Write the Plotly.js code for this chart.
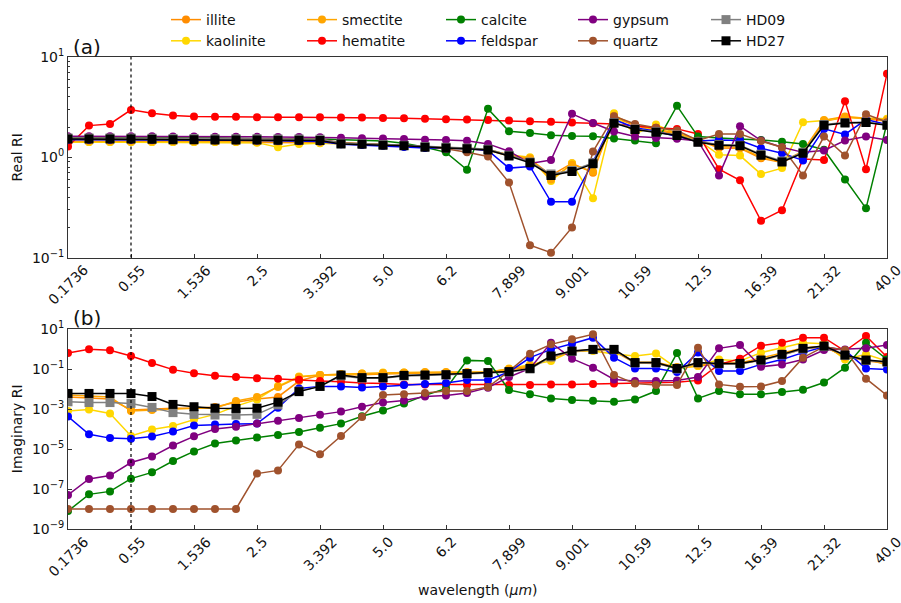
<!DOCTYPE html>
<html>
<head>
<meta charset="utf-8">
<script src="https://cdn.plot.ly/plotly-3.0.1.min.js"></script>
<style>html,body{margin:0;padding:0;background:#fff;}#chart{width:901px;height:603px;}</style>
</head>
<body>
<div id="chart"></div>
<script>
// ---- data ----
const tickLabels = ['0.1736','0.55','1.536','2.5','3.392','5.0','6.2','7.899','9.001','10.59','12.5','16.39','21.32','40.0'];
const minerals = ['illite','kaolinite','smectite','hematite','calcite','feldspar','gypsum','quartz','HD09','HD27'];

// Real refractive index
const illite_re = [1.42,1.42,1.42,1.42,1.42,1.42,1.42,1.42,1.42,1.41,1.40,1.40,1.40,1.38,1.36,1.33,1.30,1.27,1.24,1.21,1.18,1.03,0.96,0.66,0.87,0.70,2.51,2.07,1.85,1.71,1.49,1.24,1.23,0.98,0.89,1.12,2.29,2.51,2.42,2.29];
const kaolinite_re = [1.42,1.42,1.42,1.42,1.42,1.42,1.42,1.42,1.42,1.40,1.26,1.36,1.38,1.36,1.34,1.32,1.30,1.27,1.24,1.21,1.18,1.06,1.00,0.58,0.87,0.39,2.75,1.71,2.12,1.71,1.49,1.06,1.04,0.68,0.78,2.24,2.33,2.51,2.47,2.42];
const smectite_re = [1.45,1.45,1.45,1.45,1.45,1.45,1.45,1.45,1.45,1.44,1.43,1.43,1.42,1.40,1.38,1.35,1.32,1.28,1.25,1.22,1.20,1.05,0.98,0.60,0.85,0.72,2.60,2.10,1.90,1.75,1.50,1.28,1.25,1.00,0.90,1.15,2.35,2.55,2.45,2.35];
const hematite_re = [1.28,2.07,2.15,2.97,2.75,2.61,2.55,2.53,2.53,2.51,2.51,2.51,2.51,2.50,2.49,2.47,2.45,2.42,2.40,2.38,2.36,2.33,2.29,2.26,2.22,2.19,2.15,2.05,1.97,1.92,1.71,0.76,0.59,0.233,0.297,0.96,0.94,3.63,0.76,6.8];
const calcite_re = [1.58,1.58,1.58,1.58,1.57,1.57,1.56,1.56,1.55,1.55,1.54,1.53,1.52,1.50,1.48,1.45,1.38,1.26,1.12,0.75,3.04,1.82,1.75,1.66,1.63,1.62,1.54,1.47,1.38,3.26,1.61,1.56,1.53,1.49,1.43,1.36,1.19,0.60,0.31,2.2];
const feldspar_re = [1.50,1.50,1.50,1.50,1.50,1.49,1.49,1.48,1.48,1.47,1.46,1.45,1.44,1.35,1.33,1.30,1.27,1.24,1.22,1.22,1.17,0.78,0.81,0.36,0.36,0.90,2.38,1.97,1.82,1.61,1.45,1.49,1.47,1.23,1.10,0.93,1.92,1.69,2.38,2.12];
const gypsum_re = [1.62,1.62,1.62,1.62,1.62,1.61,1.61,1.60,1.60,1.60,1.59,1.59,1.58,1.57,1.55,1.54,1.52,1.50,1.49,1.46,1.36,1.15,0.87,0.94,2.71,2.20,1.81,1.61,1.56,1.53,1.45,0.66,2.04,1.47,1.26,1.12,1.17,1.47,1.61,1.49];
const quartz_re = [1.55,1.55,1.55,1.55,1.55,1.54,1.54,1.54,1.53,1.53,1.53,1.52,1.52,1.40,1.38,1.35,1.32,1.28,1.22,1.12,1.02,0.56,0.133,0.112,0.20,1.14,2.57,2.15,1.97,1.85,1.47,1.71,1.71,1.45,1.26,0.66,1.61,1.04,2.69,2.24];
const HD09_re = [1.56,1.56,1.56,1.56,1.55,1.54,1.54,1.53,1.53,1.53,1.52,1.52,1.51,1.38,1.37,1.34,1.32,1.28,1.26,1.24,1.20,1.05,0.90,0.68,0.74,0.88,2.22,1.92,1.80,1.67,1.43,1.34,1.32,1.07,0.92,1.12,2.12,2.22,2.24,2.11];
const HD27_re = [1.52,1.52,1.52,1.52,1.51,1.50,1.50,1.49,1.49,1.49,1.48,1.48,1.47,1.36,1.35,1.32,1.30,1.26,1.24,1.22,1.18,1.03,0.88,0.66,0.72,0.86,2.19,1.89,1.78,1.65,1.41,1.32,1.30,1.05,0.90,1.10,2.09,2.20,2.22,2.09];

// Imaginary refractive index
const illite_im = [4e-3,3.5e-3,3.2e-3,8.9e-4,1e-3,1.1e-3,1.1e-3,1.26e-3,2.2e-3,3.2e-3,4e-3,0.025,0.05,0.05,0.052,0.056,0.06,0.063,0.063,0.063,0.063,0.089,0.126,0.4,0.79,0.93,0.79,0.2,0.19,0.112,0.14,0.178,0.178,0.28,0.5,1.0,1.26,0.45,0.25,0.2];
const kaolinite_im = [7.9e-4,9.5e-4,6e-4,4.5e-5,9.5e-5,1.4e-4,2.95e-4,5.4e-4,1.4e-3,3e-3,0.014,0.042,0.05,0.054,0.059,0.066,0.066,0.066,0.066,0.066,0.066,0.107,0.17,0.25,0.79,0.79,0.56,0.45,0.59,0.107,0.14,0.3,0.25,0.66,1.17,2.07,1.85,0.3,0.54,0.25];
const smectite_im = [5e-3,4.5e-3,4e-3,7.9e-4,8.9e-4,1e-3,1.1e-3,1.1e-3,2.5e-3,4e-3,0.0126,0.04,0.05,0.056,0.059,0.063,0.066,0.071,0.071,0.071,0.071,0.1,0.14,0.35,0.71,0.89,0.89,0.22,0.22,0.126,0.16,0.2,0.2,0.35,0.63,1.12,1.41,0.4,0.32,0.16];
const hematite_im = [0.63,0.96,0.86,0.45,0.2,0.093,0.061,0.046,0.04,0.035,0.033,0.029,0.025,0.023,0.02,0.019,0.017,0.0166,0.0166,0.0158,0.0158,0.0158,0.0158,0.017,0.017,0.0178,0.019,0.02,0.021,0.022,0.027,0.17,0.33,1.47,2.07,3.69,3.69,0.79,4.47,0.4];
const calcite_im = [7.9e-9,5.4e-8,7.6e-8,3.3e-7,6.8e-7,2.5e-6,7.6e-6,1.9e-5,2.7e-5,3.8e-5,5.0e-5,7.1e-5,1.17e-4,1.86e-4,4.3e-4,8.5e-4,1.86e-3,4.8e-3,0.0105,0.27,0.25,8.9e-3,5.4e-3,3.4e-3,2.8e-3,2.6e-3,2.3e-3,3.0e-3,7.9e-3,0.63,3.4e-3,7.9e-3,5.4e-3,5.4e-3,7.1e-3,9.3e-3,0.021,0.117,2.07,0.3];
const feldspar_im = [4.2e-4,5.4e-5,3.5e-5,3.3e-5,4.2e-5,7.4e-5,1.5e-4,1.7e-4,1.8e-4,1.86e-4,1.17e-3,0.0107,0.0132,0.0132,0.012,0.0132,0.0158,0.0178,0.02,0.028,0.028,0.071,0.37,0.96,1.85,3.69,0.37,0.105,0.105,0.071,0.66,0.079,0.079,0.17,0.3,0.66,1.31,0.86,0.105,0.095];
const gypsum_im = [5e-8,3.2e-7,4.7e-7,2.1e-6,4.2e-6,1.5e-5,4.3e-5,1.0e-4,1.3e-4,1.86e-4,2.6e-4,3.5e-4,5.2e-4,7.4e-4,1.3e-3,2.1e-3,2.7e-3,4.2e-3,4.7e-3,6.3e-3,0.0117,0.04,0.107,2.07,0.33,0.117,0.03,0.025,0.025,0.027,0.04,1.08,1.58,0.13,0.17,0.3,0.89,0.95,1.08,1.58];
const quartz_im = [1e-8,1e-8,1e-8,1e-8,1e-8,1e-8,1e-8,1e-8,1e-8,5.9e-7,8.5e-7,1.7e-5,5.4e-6,4.5e-5,4e-4,5e-3,5.4e-3,6.3e-3,7.9e-3,7.9e-3,0.0126,0.079,0.58,1.71,3.04,5.4,0.05,0.0186,0.0158,0.0158,1.17,0.017,0.013,0.0135,0.025,0.37,1.31,0.89,0.033,0.0048];
const HD09_im = [2.3e-3,2.1e-3,2.1e-3,1.9e-3,1.2e-3,6.6e-4,5.4e-4,5e-4,5e-4,5.4e-4,1.6e-3,7.9e-3,0.0135,0.045,0.035,0.035,0.045,0.048,0.05,0.056,0.063,0.071,0.1,0.4,0.76,0.93,0.93,0.2,0.2,0.1,0.2,0.18,0.18,0.27,0.5,1.0,1.32,0.48,0.27,0.22];
const HD27_im = [6e-3,6e-3,6e-3,5.9e-3,4.2e-3,1.7e-3,1.3e-3,1.1e-3,1.07e-3,1.1e-3,2.2e-3,7.4e-3,0.0135,0.05,0.037,0.037,0.048,0.05,0.052,0.059,0.066,0.074,0.107,0.45,0.79,0.96,0.96,0.21,0.21,0.107,0.21,0.19,0.19,0.28,0.54,1.08,1.41,0.5,0.28,0.23];

// ---- styling ----
const realData = {illite:illite_re,kaolinite:kaolinite_re,smectite:smectite_re,hematite:hematite_re,calcite:calcite_re,feldspar:feldspar_re,gypsum:gypsum_re,quartz:quartz_re,HD09:HD09_re,HD27:HD27_re};
const imagData = {illite:illite_im,kaolinite:kaolinite_im,smectite:smectite_im,hematite:hematite_im,calcite:calcite_im,feldspar:feldspar_im,gypsum:gypsum_im,quartz:quartz_im,HD09:HD09_im,HD27:HD27_im};
const colors = {illite:'#ff8c00',kaolinite:'#ffd700',smectite:'#ffa500',hematite:'#ff0000',calcite:'#008000',feldspar:'#0000ff',gypsum:'#800080',quartz:'#a0522d',HD09:'#808080',HD27:'#000000'};
// legend columns (matplotlib ncol=5, column-major)
const legendOf = {illite:'legend',kaolinite:'legend',smectite:'legend2',hematite:'legend2',calcite:'legend3',feldspar:'legend3',gypsum:'legend4',quartz:'legend4',HD09:'legend5',HD27:'legend5'};

const FONT = 'DejaVu Sans, sans-serif';
const TXT = '#111';
const xs = illite_re.map((_, i) => i);
const traces = [];
minerals.forEach(m => {
  const isHD = m.startsWith('HD');
  const mk = {color: colors[m], size: isHD ? 9 : 8, symbol: isHD ? 'square' : 'circle'};
  traces.push({x: xs, y: realData[m], xaxis:'x', yaxis:'y', mode:'lines+markers', name:m,
    line:{color:colors[m], width:1.5}, marker:mk, legend: legendOf[m], legendgroup:m});
  traces.push({x: xs, y: imagData[m], xaxis:'x2', yaxis:'y2', mode:'lines+markers', name:m,
    line:{color:colors[m], width:1.5}, marker:mk, showlegend:false, legendgroup:m});
});

const tickvals = tickLabels.map((_, k) => 3 * k);
const axisCommon = {
  showline:true, mirror:true, linecolor:'#333', linewidth:1,
  ticks:'inside', ticklen:4, tickcolor:'#333', showgrid:false, zeroline:false, automargin:false,
  tickfont:{family:FONT, size:14, color:TXT}
};
// x tick labels are drawn centred under each tick (matplotlib-style rotated labels)
const xCommon = Object.assign({}, axisCommon, {
  range:[0, xs.length - 1], tickmode:'array', tickvals: tickvals, ticktext: tickLabels, showticklabels:false
});
const minorTop = [];
[0.1, 1].forEach(d => { for (let k = 2; k <= 9; k++) minorTop.push(d * k); });

const legendCols = [166, 302, 441, 573, 706];
const legends = {};
['legend','legend2','legend3','legend4','legend5'].forEach((L, k) => {
  legends[L] = {xref:'container', yref:'container', x: legendCols[k] / 901, y: 1 - 4 / 603,
    xanchor:'left', yanchor:'top', orientation:'v', bgcolor:'rgba(0,0,0,0)', borderwidth:0,
    font:{family:FONT, size:14, color:TXT}, tracegroupgap:0};
});

const annotations = [
  {text:'(a)', xref:'paper', yref:'paper', x:0.004, y:1.021, xanchor:'left', yanchor:'middle', showarrow:false, font:{family:FONT, size:20, color:TXT}},
  {text:'(b)', xref:'paper', yref:'paper', x:0.004, y:0.447, xanchor:'left', yanchor:'middle', showarrow:false, font:{family:FONT, size:20, color:TXT}},
  {text:'Real RI', xref:'paper', yref:'paper', x:-0.062, y:0.7875, textangle:-90, xanchor:'center', yanchor:'middle', showarrow:false, font:{family:FONT, size:14, color:TXT}},
  {text:'Imaginary RI', xref:'paper', yref:'paper', x:-0.062, y:0.2119, textangle:-90, xanchor:'center', yanchor:'middle', showarrow:false, font:{family:FONT, size:14, color:TXT}},
  {text:'wavelength (<i>\u03bcm</i>)', xref:'paper', yref:'paper', x:0.5, y:-0.129, xanchor:'center', yanchor:'middle', showarrow:false, font:{family:FONT, size:14, color:TXT}}
];
[['x', 0.568], ['x2', -0.0075]].forEach(([ax, yp]) => {
  tickLabels.forEach((lab, k) => {
    annotations.push({text: lab, xref: ax, yref:'paper', x: tickvals[k], y: yp, textangle:-45,
      xanchor:'center', yanchor:'top', showarrow:false, borderpad:0, font:{family:FONT, size:14, color:TXT}});
  });
});

const layout = Object.assign({
  width:901, height:603,
  margin:{l:68, r:14, t:57, b:74, autoexpand:false},
  paper_bgcolor:'#fff', plot_bgcolor:'#fff',
  font:{family:FONT, size:14, color:TXT},
  xaxis: Object.assign({}, xCommon, {anchor:'y'}),
  yaxis: Object.assign({}, axisCommon, {
    type:'log', domain:[0.575, 1], range:[-1, 1], anchor:'x',
    tickmode:'array', tickvals:[0.1, 1, 10], ticktext:['10<sup>\u22121</sup>','10<sup>0</sup>','10<sup>1</sup>'],
    minor:{ticks:'inside', ticklen:2, tickcolor:'#333', tickmode:'array', tickvals:minorTop, showgrid:false}
  }),
  xaxis2: Object.assign({}, xCommon, {anchor:'y2'}),
  yaxis2: Object.assign({}, axisCommon, {
    type:'log', domain:[0, 0.4237], range:[-9, 1], anchor:'x2',
    tickmode:'array', tickvals:[1e-9,1e-7,1e-5,1e-3,1e-1,10],
    ticktext:['10<sup>\u22129</sup>','10<sup>\u22127</sup>','10<sup>\u22125</sup>','10<sup>\u22123</sup>','10<sup>\u22121</sup>','10<sup>1</sup>']
  }),
  shapes:[
    {type:'line', xref:'x', yref:'y domain', x0:3, x1:3, y0:0, y1:1, line:{color:'#000', width:1.2, dash:'dot'}},
    {type:'line', xref:'x2', yref:'y2 domain', x0:3, x1:3, y0:0, y1:1, line:{color:'#000', width:1.2, dash:'dot'}}
  ],
  annotations: annotations
}, legends);

Plotly.newPlot('chart', traces, layout, {staticPlot:true, displayModeBar:false});
</script>
</body>
</html>
